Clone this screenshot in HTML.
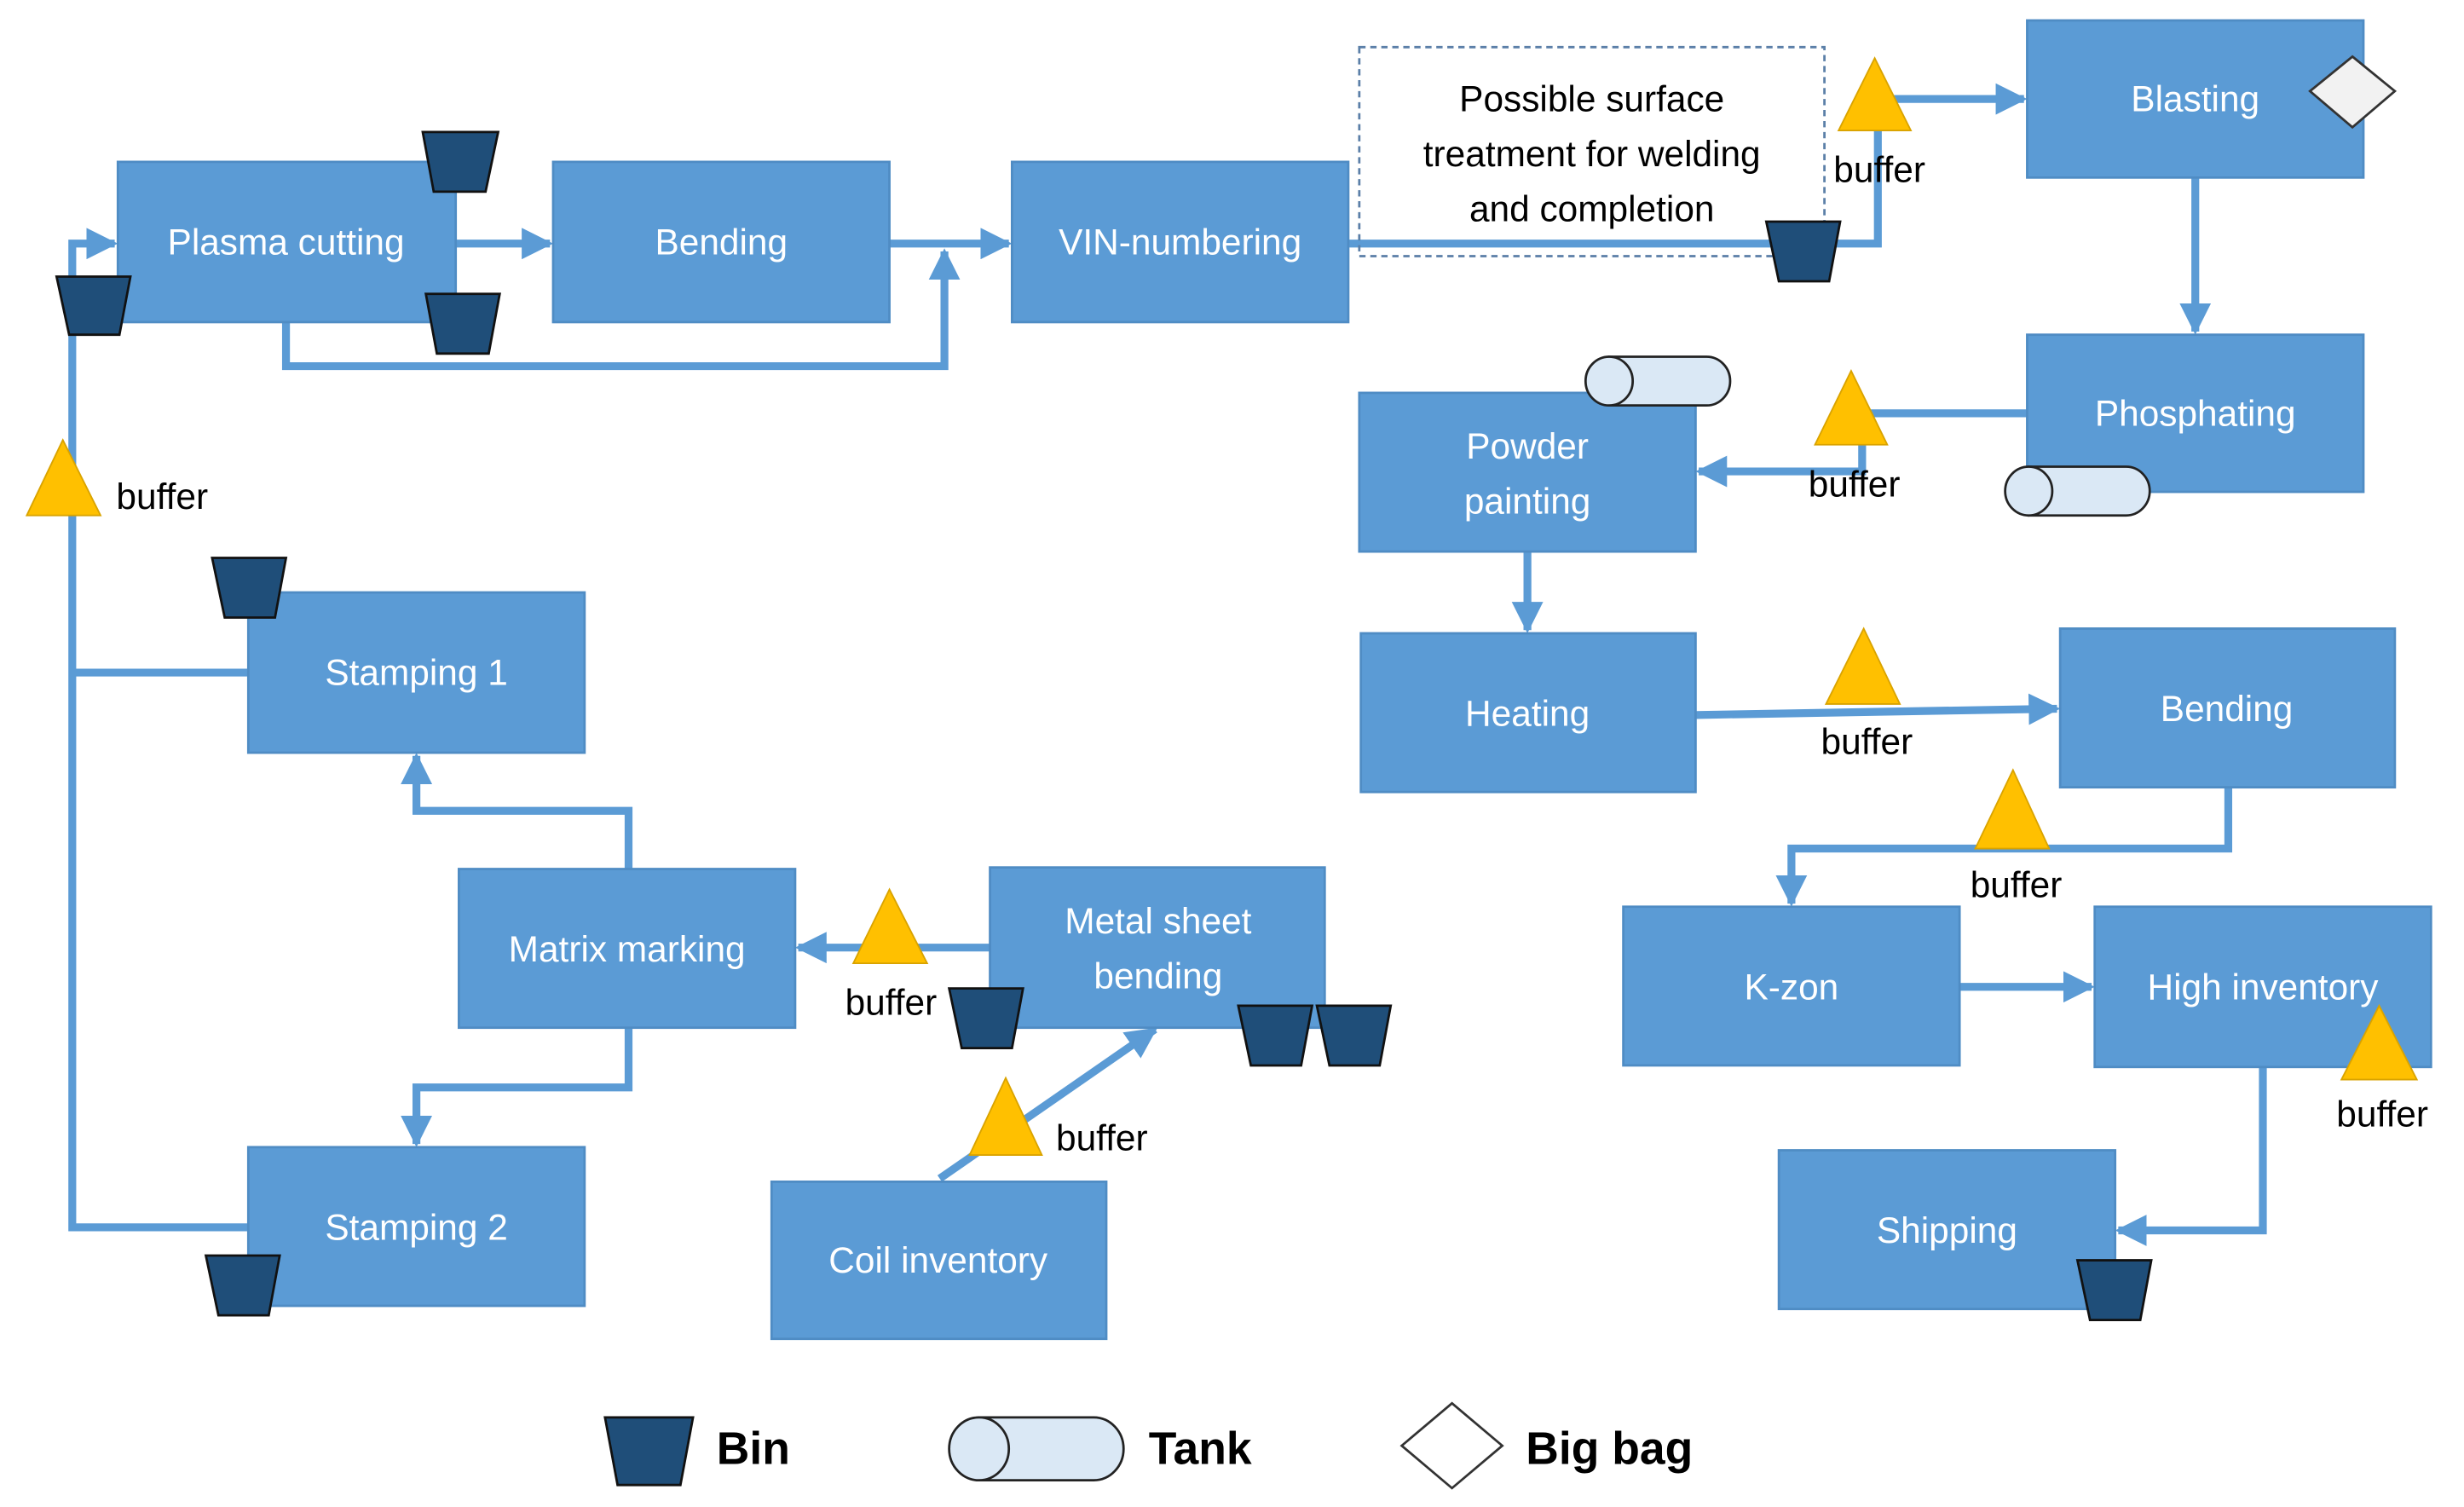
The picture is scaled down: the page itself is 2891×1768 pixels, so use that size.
<!DOCTYPE html>
<html><head><meta charset="utf-8"><style>
html,body{margin:0;padding:0;background:#fff;}
svg{display:block;}
.b{fill:#5b9bd5;stroke:#4f8cc4;stroke-width:1.5}
.t{fill:#fff;font-family:"Liberation Sans",sans-serif;font-size:23px;text-anchor:middle;dominant-baseline:central}
.k{fill:#000;font-family:"Liberation Sans",sans-serif;font-size:23px;dominant-baseline:central}
.l{fill:none;stroke:#5b9bd5;stroke-width:5}
.bin{fill:#1f4e79;stroke:#111;stroke-width:1.5}
.tri{fill:#ffc000;stroke:#d9a300;stroke-width:1}
.tank{fill:#dae8f5;stroke:#222;stroke-width:1.5}
</style></head><body>
<svg width="2891" height="1768" viewBox="0 0 1568 959" preserveAspectRatio="none" xmlns="http://www.w3.org/2000/svg">
<defs><marker id="a" viewBox="0 0 10 10" refX="9" refY="5" markerWidth="4" markerHeight="4" orient="auto" markerUnits="strokeWidth"><path d="M0,0L10,5L0,10z" fill="#5b9bd5"/></marker></defs>
<!-- connectors -->
<g class="l">
<path d="M290,155H350" marker-end="url(#a)"/>
<path d="M566,155H642" marker-end="url(#a)"/>
<path d="M182,205V233H601V160" marker-end="url(#a)"/>
<path d="M858,155H1195V63H1288" marker-end="url(#a)"/>
<path d="M1397,113V211" marker-end="url(#a)"/>
<path d="M1290,263H1185V300H1081" marker-end="url(#a)"/>
<path d="M972,351V401" marker-end="url(#a)"/>
<path d="M1079,455L1309,451" marker-end="url(#a)"/>
<path d="M1418,501V540H1140V575" marker-end="url(#a)"/>
<path d="M1247,628H1331" marker-end="url(#a)"/>
<path d="M1440,679V783H1348" marker-end="url(#a)"/>
<path d="M630,603H508" marker-end="url(#a)"/>
<path d="M400,553V516H265V481" marker-end="url(#a)"/>
<path d="M400,654V692H265V728" marker-end="url(#a)"/>
<path d="M598,750L735,655" marker-end="url(#a)"/>
<path d="M158,781H46V155H73" marker-end="url(#a)"/>
<path d="M158,428H46"/>
</g>
<!-- boxes -->
<rect class="b" x="75" y="103" width="215" height="102"/><text class="t" x="182" y="154">Plasma cutting</text>
<rect class="b" x="352" y="103" width="214" height="102"/><text class="t" x="459" y="154">Bending</text>
<rect class="b" x="644" y="103" width="214" height="102"/><text class="t" x="751" y="154">VIN-numbering</text>
<rect x="865" y="30" width="296" height="133" fill="none" stroke="#5b7fa8" stroke-width="1.5" stroke-dasharray="4,3"/>
<text class="k" x="1013" y="63" text-anchor="middle">Possible surface</text>
<text class="k" x="1013" y="98" text-anchor="middle">treatment for welding</text>
<text class="k" x="1013" y="133" text-anchor="middle">and completion</text>
<rect class="b" x="1290" y="13" width="214" height="100"/><text class="t" x="1397" y="63">Blasting</text>
<rect class="b" x="1290" y="213" width="214" height="100"/><text class="t" x="1397" y="263">Phosphating</text>
<rect class="b" x="865" y="250" width="214" height="101"/><text class="t" x="972" y="284">Powder</text><text class="t" x="972" y="319">painting</text>
<rect class="b" x="866" y="403" width="213" height="101"/><text class="t" x="972" y="454">Heating</text>
<rect class="b" x="1311" y="400" width="213" height="101"/><text class="t" x="1417" y="451">Bending</text>
<rect class="b" x="1033" y="577" width="214" height="101"/><text class="t" x="1140" y="628">K-zon</text>
<rect class="b" x="1333" y="577" width="214" height="102"/><text class="t" x="1440" y="628">High inventory</text>
<rect class="b" x="1132" y="732" width="214" height="101"/><text class="t" x="1239" y="783">Shipping</text>
<rect class="b" x="158" y="377" width="214" height="102"/><text class="t" x="265" y="428">Stamping 1</text>
<rect class="b" x="292" y="553" width="214" height="101"/><text class="t" x="399" y="604">Matrix marking</text>
<rect class="b" x="630" y="552" width="213" height="102"/><text class="t" x="737" y="586">Metal sheet</text><text class="t" x="737" y="621">bending</text>
<rect class="b" x="158" y="730" width="214" height="101"/><text class="t" x="265" y="781">Stamping 2</text>
<rect class="b" x="491" y="752" width="213" height="100"/><text class="t" x="597" y="802">Coil inventory</text>
<!-- buffers -->
<g class="tri">
<path d="M40,280L17,328H64z"/>
<path d="M1193,37L1170,83H1216z"/>
<path d="M1178,236L1155,283H1201z"/>
<path d="M1186,400L1162,448H1209z"/>
<path d="M1281,490L1257,540H1304z"/>
<path d="M1514,640L1490,687H1538z"/>
<path d="M566,566L543,613H590z"/>
<path d="M640,686L617,735H663z"/>
</g>
<text class="k" x="74" y="316">buffer</text>
<text class="k" x="1196" y="108" text-anchor="middle">buffer</text>
<text class="k" x="1180" y="308" text-anchor="middle">buffer</text>
<text class="k" x="1188" y="472" text-anchor="middle">buffer</text>
<text class="k" x="1283" y="563" text-anchor="middle">buffer</text>
<text class="k" x="1516" y="709" text-anchor="middle">buffer</text>
<text class="k" x="567" y="638" text-anchor="middle">buffer</text>
<text class="k" x="672" y="724">buffer</text>
<!-- bins -->
<g class="bin">
<path d="M269,84H317L309,122H276z"/>
<path d="M271,187H318L311,225H278z"/>
<path d="M36,176H83L76,213H44z"/>
<path d="M135,355H182L175,393H143z"/>
<path d="M131,799H178L171,837H139z"/>
<path d="M604,629H651L644,667H612z"/>
<path d="M788,640H835L828,678H796z"/>
<path d="M838,640H885L878,678H846z"/>
<path d="M1124,141H1171L1164,179H1132z"/>
<path d="M1322,802H1369L1362,840H1330z"/>
<path d="M385,902H441L433,945H393z"/>
</g>
<!-- tanks -->
<g class="tank">
<path d="M1024,227H1086A15,15.5 0 0 1 1086,258H1024z"/><ellipse cx="1024" cy="242.5" rx="15" ry="15.5"/>
<path d="M1291,297H1353A15,15.5 0 0 1 1353,328H1291z"/><ellipse cx="1291" cy="312.5" rx="15" ry="15.5"/>
<path d="M623,902H696A19,20 0 0 1 696,942H623z"/><ellipse cx="623" cy="922" rx="19" ry="20"/>
</g>
<!-- diamonds -->
<path d="M1497,36L1524,58L1497,81L1470,58z" fill="#f2f2f2" stroke="#333" stroke-width="1.5"/>
<path d="M924,893L956,920L924,947L892,920z" fill="#fff" stroke="#333" stroke-width="1.5"/>
<!-- legend -->
<text class="k" x="456" y="922" style="font-weight:bold;font-size:29px">Bin</text>
<text class="k" x="731" y="922" style="font-weight:bold;font-size:29px">Tank</text>
<text class="k" x="971" y="922" style="font-weight:bold;font-size:29px">Big bag</text>
</svg>
</body></html>
